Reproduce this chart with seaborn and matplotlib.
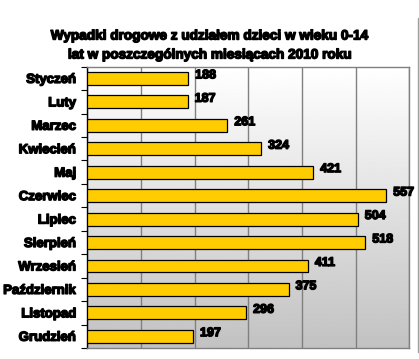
import numpy as np
import pandas as pd
import matplotlib.pyplot as plt
import matplotlib.patheffects as pe
import seaborn as sns

# Dane: wypadki drogowe z udziałem dzieci 0-14 lat, 2010
miesiace = ['Styczeń', 'Luty', 'Marzec', 'Kwiecień', 'Maj', 'Czerwiec',
            'Lipiec', 'Sierpień', 'Wrzesień', 'Październik', 'Listopad', 'Grudzień']
wypadki = [188, 187, 261, 324, 421, 557, 504, 518, 411, 375, 296, 197]
tytul = 'Wypadki drogowe z udziałem dzieci w wieku 0-14\nlat w poszczególnych miesiącach 2010 roku'

df = pd.DataFrame({'Miesiąc': miesiace, 'Wypadki': wypadki})

sns.set_style('white')
plt.rcParams['font.family'] = ['Liberation Sans', 'DejaVu Sans']
plt.rcParams['text.color'] = 'black'
plt.rcParams['ytick.color'] = 'black'
plt.rcParams['ytick.labelcolor'] = 'black'
gruby = [pe.withStroke(linewidth=1.0, foreground='black')]

fig = plt.figure(figsize=(4.19, 3.59), dpi=100)
ax = fig.add_axes([87.3 / 419, 1 - 348 / 359, (409.3 - 87.3) / 419, (348 - 66.7) / 359])

# tło z gradientem (biały -> szary)
grad = np.linspace(1.0, 0.76, 256).reshape(-1, 1)
ax.imshow(grad, cmap='gray', vmin=0, vmax=1, aspect='auto',
          extent=[0, 600, 11.5, -0.5], zorder=0)

sns.barplot(data=df, x='Wypadki', y='Miesiąc', orient='h', color='#FFCC00',
            saturation=1, edgecolor='black', linewidth=0.9, width=0.55, ax=ax, zorder=3)

ax.set_xlim(0, 600)
ax.set_ylim(11.5, -0.5)
ax.set_xticks(range(0, 601, 100))
ax.xaxis.grid(True, color='#808080', linewidth=1, zorder=1)
ax.set_axisbelow(True)
ax.tick_params(axis='x', bottom=False, labelbottom=False)
ax.set_yticks(range(len(miesiace)))
ax.set_yticklabels(miesiace, fontsize=9.5, fontweight='bold')
for t in ax.get_yticklabels():
    t.set_path_effects(gruby)
ax.set_yticks(np.arange(-0.5, 12, 1), minor=True)
ax.tick_params(axis='y', which='major', left=False, pad=4.5)
ax.tick_params(axis='y', which='minor', left=True, length=4, width=0.8, color='black')
ax.set_xlabel('')
ax.set_ylabel('')

for s in ['top', 'right', 'bottom']:
    ax.spines[s].set_color('#808080')
    ax.spines[s].set_linewidth(1)
ax.spines['left'].set_color('black')
ax.spines['left'].set_linewidth(1)

for i, v in enumerate(wypadki):
    ax.text(v + 13, i - 0.13, str(v), va='center', ha='left',
            fontsize=9, fontweight='bold', zorder=4, path_effects=gruby)

fig.text(0.5, 1 - 45 / 359, tytul, ha='center', va='center',
         fontsize=9.8, fontweight='bold', linespacing=1.45, path_effects=gruby)

# obramowanie po prawej
fig.add_artist(plt.Line2D([418.3 / 419] * 2, [1 - 18 / 359, 1 - 352 / 359],
                          color='#a0a0a0', linewidth=1))

fig.savefig('out.png', dpi=100)
